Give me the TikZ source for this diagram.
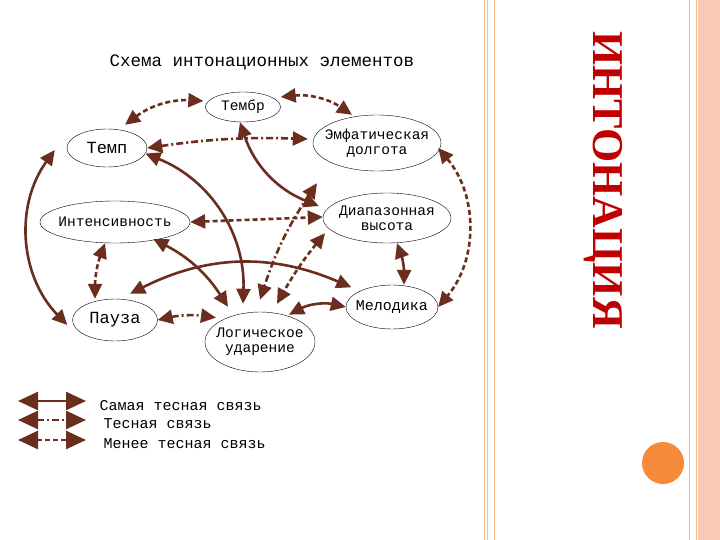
\documentclass[tikz,border=0pt]{standalone}
\usepackage{fontspec}
\setmainfont{Liberation Serif}
\newfontfamily\monof{Liberation Mono}
\usetikzlibrary{arrows.meta,shapes.geometric}
\definecolor{br}{HTML}{6B2E1E}
\definecolor{tred}{HTML}{C00000}
\definecolor{salm}{HTML}{F9C9B3}
\definecolor{orng}{HTML}{F58A3A}
\begin{document}
\begin{tikzpicture}[x=1pt,y=-1pt,
 el/.style={draw=black,thin,ellipse,fill=white,inner xsep=-12pt,inner ysep=-2pt,font=\monof\fontsize{14.5}{15}\selectfont,align=center},
 con/.style={color=br,line width=2.6pt,{Triangle[length=15pt,width=14pt]}-{Triangle[length=15pt,width=14pt]}},
 solidc/.style={con},
 dashc/.style={con,dash pattern=on 5pt off 3pt},
 ddc/.style={con,dash pattern=on 7pt off 3pt on 2pt off 3pt},
 lab/.style={font=\monof\fontsize{15}{16}\selectfont,anchor=west}]
\useasboundingbox (0,0) rectangle (720,540);
\fill[white] (0,0) rectangle (720,540);
% side decorations
\fill[salm] (698,0) rectangle (720,540);
\draw[orng!60,line width=0.8pt] (484,0)--(484,540) (494,0)--(494,540) (689,0)--(689,540) (696,0)--(696,540);
\draw[teal!30,line width=0.6pt] (487,0)--(487,540);
\fill[orng] (663,463) circle (21);
\node[rotate=-90,text=tred,font=\bfseries\fontsize{44}{44}\selectfont] (ttl) at (603,180) {ИНТОНАЦИЯ};
\node[font=\monof\fontsize{17.5}{18}\selectfont] (head) at (262,62) {Схема интонационных элементов};
% nodes
\node[el,minimum width=75,minimum height=30] (tb) at (243,107) {Тембр};
\node[el,minimum width=80,minimum height=38,font=\monof\fontsize{17}{18}\selectfont] (tp) at (107,148) {Темп};
\node[el,minimum width=128,minimum height=56] (em) at (377,143) {Эмфатическая\\долгота};
\node[el,minimum width=150,minimum height=42] (in) at (115,222) {Интенсивность};
\node[el,minimum width=128,minimum height=50] (di) at (387,218) {Диапазонная\\высота};
\node[el,minimum width=85,minimum height=42,font=\monof\fontsize{17}{18}\selectfont] (pa) at (115,320) {Пауза};
\node[el,minimum width=110,minimum height=60] (lo) at (260,342) {Логическое\\ударение};
\node[el,minimum width=92,minimum height=44,font=\monof\fontsize{15}{16}\selectfont] (me) at (392,307) {Мелодика};
% connectors
\draw[dashc] ([shift={(18,-4)}]tp.north) to[bend left=20] ([shift={(-2,-6)}]tb.west);
\draw[dashc] ([shift={(0,-10)}]tb.east) to[bend left=20] ([shift={(-25,0)}]em.north);
\draw[ddc] (tp.east) to[bend left=5] ([shift={(-5,-4)}]em.west);
\draw[solidc] ([shift={(-3,0)}]tb.south) to[bend right=25] ([shift={(-4,-12)}]di.west);
\draw[solidc] ([shift={(10,-8)}]tp.south east) to[bend left=35] ([shift={(-17,-8)}]lo.north);
\draw[dashc] (in.east) -- ([shift={(0,-1)}]di.west);
\draw[solidc] ([shift={(-15,2)}]in.south east) to[bend left=15] ([shift={(-32,-5)}]lo.north);
\draw[dashc] ([shift={(-10,0)}]in.south) to[bend right=10] ([shift={(-20,0)}]pa.north);
\draw[solidc] ([shift={(-12,2)}]tp.west) to[bend right=40] ([shift={(-5,5)}]pa.west);
\draw[solidc] ([shift={(15,-5)}]pa.north) to[bend left=25] ([shift={(-8,-4)}]me.north west);
\draw[ddc] (pa.east) to[bend left=10] ([shift={(-5,-3)}]lo.north west);
\draw[ddc] ([shift={(-60,12)}]em.south) to[bend right=8] ([shift={(0,-12)}]lo.north);
\draw[dashc] ([shift={(-62,-10)}]di.south) to[bend right=5] ([shift={(17,-8)}]lo.north);
\draw[solidc] ([shift={(10,0)}]di.south) to[bend left=10] ([shift={(12,0)}]me.north);
\draw[solidc] ([shift={(-10,-6)}]lo.north east) to[bend left=20] (me.west);
\draw[dashc] ([shift={(-3,5)}]em.east) to[bend left=40] (me.east);
% legend
\foreach \yy/\st/\nm in {401/solidc/l1,420/ddc/l2,440/dashc/l3}{
 \coordinate (\nm a) at (18,\yy); \coordinate (\nm b) at (86,\yy);
 \draw[\st,{Triangle[length=20pt,width=18pt]}-{Triangle[length=20pt,width=18pt]}] (\nm a) -- (\nm b);}
\node[lab] (t1) at (96,406) {Самая тесная связь};
\node[lab] (t2) at (100,424) {Тесная связь};
\node[lab] (t3) at (100,444) {Менее тесная связь};
\end{tikzpicture}
\end{document}
